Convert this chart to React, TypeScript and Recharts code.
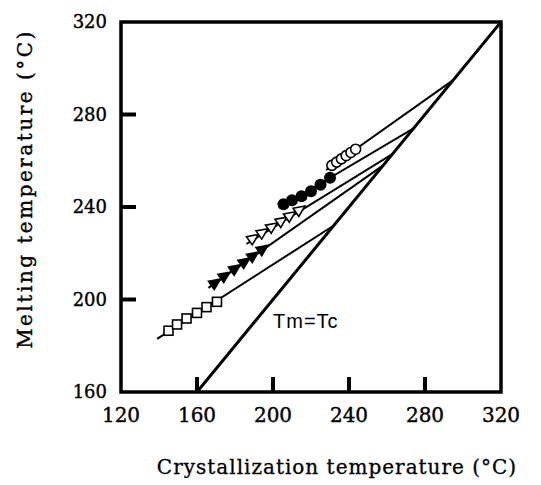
import React from "react"
import {
  ComposedChart,
  Line,
  Scatter,
  XAxis,
  YAxis,
  ReferenceArea,
  ReferenceDot,
  Label,
} from "recharts"

// crystallization temperature (Tc) and melting temperature (Tm), deg C
const squareTc = [145, 149.5, 154.5, 160, 165, 170.5]
const squareTm = [186.5, 189.2, 191.8, 194.2, 196.7, 199]

const filledTriTc = [169.5, 174.5, 180, 185, 189.5, 194.5]
const filledTriTm = [207.2, 210.2, 213.4, 216.3, 218.9, 221.8]

const openTriTc = [189.5, 194.5, 199.5, 204.5, 209, 214]
const openTriTm = [226.5, 229, 231.5, 234, 236.3, 238.8]

const filledCircTc = [205.5, 210, 215, 220, 225, 230]
const filledCircTm = [241.2, 242.9, 244.6, 246.8, 249.6, 252.6]

const openCircTc = [231, 233.5, 236, 238.5, 241, 243.5]
const openCircTm = [258, 259.4, 260.8, 262.2, 263.6, 265]

// extrapolation lines: start and end (end lies on Tm = Tc)
const squareFitTc = [139, 232]
const squareFitTm = [183, 232]
const filledTriFitTc = [166, 258]
const filledTriFitTm = [205, 258]
const openTriFitTc = [186, 263]
const openTriFitTm = [224, 263]
const filledCircFitTc = [204, 274]
const filledCircFitTm = [240, 274]
const openCircFitTc = [228, 295]
const openCircFitTm = [256, 295]

const diagTc = [160, 320]
const diagTm = [160, 320]

const xTicks = [120, 160, 200, 240, 280, 320]
const yTicks = [160, 200, 240, 280, 320]

const pts = (xs: number[], ys: number[]) => xs.map((x, i) => ({ x, y: ys[i] }))

const serif = "'DejaVu Serif', 'Liberation Serif', serif"

const XTick = (props: any) => {
  const { x, y, payload } = props
  const inner = payload.value !== 120 && payload.value !== 320
  return (
    <g>
      {inner && <line x1={x} x2={x} y1={y} y2={y - 15} stroke="#000" strokeWidth={4} />}
      <text x={x} y={y + 30} textAnchor="middle" fontFamily={serif} fontSize={20} fill="#000" stroke="#000" strokeWidth={0.4}>
        {payload.value}
      </text>
    </g>
  )
}

const YTick = (props: any) => {
  const { x, y, payload } = props
  const inner = payload.value !== 160 && payload.value !== 320
  return (
    <g>
      {inner && <line x1={x} x2={x + 15} y1={y} y2={y} stroke="#000" strokeWidth={4} />}
      <text x={x - 14} y={y + 6} textAnchor="end" fontFamily={serif} fontSize={18} fill="#000" stroke="#000" strokeWidth={0.4}>
        {payload.value}
      </text>
    </g>
  )
}

const Square = (p: any) => (
  <rect x={p.cx - 4.5} y={p.cy - 4.5} width={9} height={9} fill="#fff" stroke="#000" strokeWidth={1.6} />
)

const tri = (fill: string) => (p: any) => (
  <polygon
    points="6.5,0 -4.5,-5 -4.5,5"
    transform={`translate(${p.cx},${p.cy}) rotate(-35)`}
    fill={fill}
    stroke="#000"
    strokeWidth={1.6}
  />
)

const FilledCircle = (p: any) => <circle cx={p.cx} cy={p.cy} r={6} fill="#000" />
const OpenCircle = (p: any) => (
  <circle cx={p.cx} cy={p.cy} r={5} fill="#fff" stroke="#000" strokeWidth={1.6} />
)

const fitLine = (xs: number[], ys: number[], key: string, w = 2) => (
  <Line
    key={key}
    data={pts(xs, ys)}
    dataKey="y"
    stroke="#000"
    strokeWidth={w}
    dot={false}
    activeDot={false}
    isAnimationActive={false}
  />
)

export default function App() {
  return (
    <ComposedChart width={533} height={477} margin={{ top: 14, right: 40, left: 0, bottom: 0 }}>
      <XAxis
        dataKey="x"
        type="number"
        domain={[120, 320]}
        ticks={xTicks}
        allowDataOverflow
        height={93}
        tickSize={0}
        tickMargin={0}
        tickLine={false}
        axisLine={false}
        tick={<XTick />}
        interval={0}
      >
        <Label
          content={({ viewBox }: any) => (
            <text
              x={viewBox.x + viewBox.width / 2 + 26}
              y={viewBox.y + 82}
              textAnchor="middle"
              fontFamily={serif}
              fontSize={20}
              letterSpacing={1}
              fill="#000"
              stroke="#000"
              strokeWidth={0.3}
            >
              Crystallization temperature (°C)
            </text>
          )}
        />
      </XAxis>
      <YAxis
        dataKey="y"
        type="number"
        domain={[160, 320]}
        ticks={yTicks}
        allowDataOverflow
        width={113}
        tickSize={0}
        tickMargin={0}
        tickLine={false}
        axisLine={false}
        tick={<YTick />}
        interval={0}
      >
        <Label
          content={() => (
            <text
              x={0}
              y={0}
              transform="translate(24,181) rotate(-90)"
              textAnchor="middle"
              fontFamily={serif}
              fontSize={20}
              letterSpacing={2.5}
              fill="#000"
              stroke="#000"
              strokeWidth={0.4}
            >
              Melting temperature (°C)
            </text>
          )}
        />
      </YAxis>

      <ReferenceArea x1={120} x2={320} y1={160} y2={320} fill="none" stroke="#000" strokeWidth={3.5} />

      {fitLine(diagTc, diagTm, "diag", 3)}
      {fitLine(squareFitTc, squareFitTm, "sqf")}
      {fitLine(filledTriFitTc, filledTriFitTm, "ftf")}
      {fitLine(openTriFitTc, openTriFitTm, "otf")}
      {fitLine(filledCircFitTc, filledCircFitTm, "fcf")}
      {fitLine(openCircFitTc, openCircFitTm, "ocf")}

      <Scatter data={pts(squareTc, squareTm)} shape={Square} isAnimationActive={false} />
      <Scatter data={pts(filledTriTc, filledTriTm)} shape={tri("#000")} isAnimationActive={false} />
      <Scatter data={pts(openTriTc, openTriTm)} shape={tri("#fff")} isAnimationActive={false} />
      <Scatter data={pts(filledCircTc, filledCircTm)} shape={FilledCircle} isAnimationActive={false} />
      <Scatter data={pts(openCircTc, openCircTm)} shape={OpenCircle} isAnimationActive={false} />

      <ReferenceDot
        x={200}
        y={187.5}
        r={0}
        stroke="none"
        label={{
          content: ({ viewBox }: any) => (
            <text
              x={viewBox.x}
              y={viewBox.y}
              fontFamily="'Liberation Sans', Arial, sans-serif"
              fontSize={20}
              letterSpacing={1}
              fill="#000"
            >
              Tm=Tc
            </text>
          ),
        }}
      />
    </ComposedChart>
  )
}
